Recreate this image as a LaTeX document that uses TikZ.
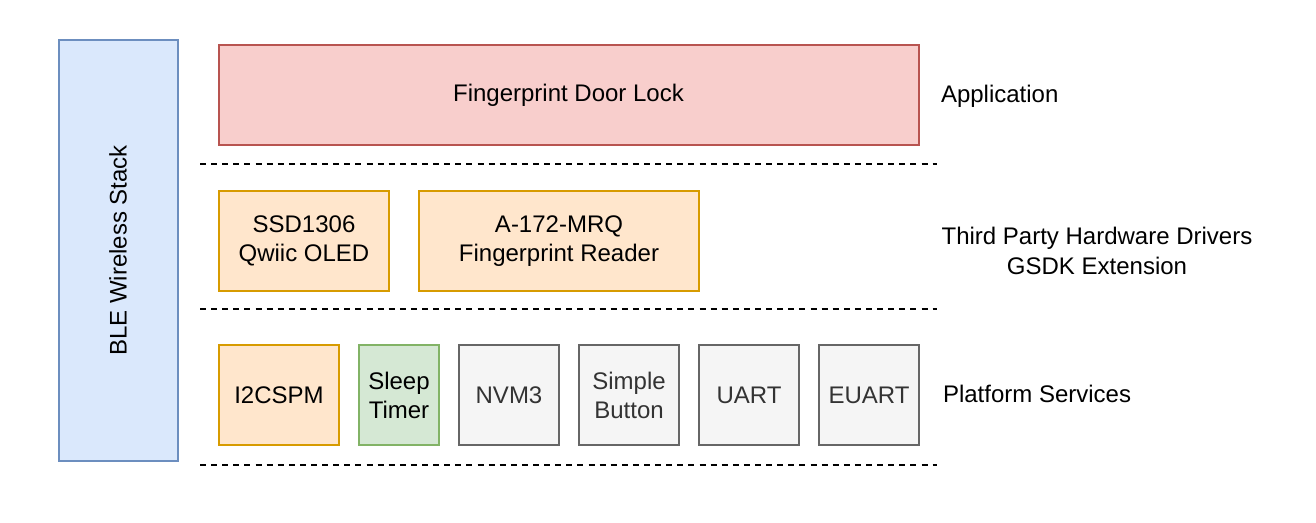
\documentclass[tikz,border=0pt]{standalone}
\usepackage{fontspec}
\setmainfont{Liberation Sans}
\usetikzlibrary{positioning}
\definecolor{bleFill}{HTML}{DAE8FC}
\definecolor{bleLine}{HTML}{6C8EBF}
\definecolor{appFill}{HTML}{F8CECC}
\definecolor{appLine}{HTML}{B85450}
\definecolor{drvFill}{HTML}{FFE6CC}
\definecolor{drvLine}{HTML}{D79B00}
\definecolor{slpFill}{HTML}{D5E8D4}
\definecolor{slpLine}{HTML}{82B366}
\definecolor{svcFill}{HTML}{F5F5F5}
\definecolor{svcLine}{HTML}{666666}
\definecolor{svcText}{HTML}{333333}

\begin{document}
\begin{tikzpicture}[x=1pt,y=-1pt,node distance=20pt,line width=2pt,
  font=\fontsize{24}{29}\selectfont,
  box/.style={draw,rectangle,align=center,inner sep=0pt,outer sep=0pt,minimum height=100pt},
  ble box/.style={box,fill=bleFill,draw=bleLine},
  app box/.style={box,fill=appFill,draw=appLine},
  drv box/.style={box,fill=drvFill,draw=drvLine},
  slp box/.style={box,fill=slpFill,draw=slpLine},
  svc box/.style={box,fill=svcFill,draw=svcLine,text=svcText,minimum width=100pt},
  layer/.style={align=center,inner sep=0pt},
  sep line/.style={line width=2.5pt,dash pattern=on 6pt off 5.1pt}]
  \useasboundingbox (0,0) rectangle (1316,522);

  % stack on the left
  \node[ble box,minimum width=119pt,minimum height=421pt] (ble) at (118,250.5)
    {\rotatebox{90}{BLE Wireless Stack}};

  % application layer
  \node[app box,minimum width=700pt] (app) at (568.5,95) {Fingerprint Door Lock};
  \node[layer,anchor=west] (applbl) at (940,96) {Application};
  \draw[sep line] (200,164) -- (937,164);

  % third party drivers
  \node[drv box,minimum width=170pt] (oled) at (304,241) {SSD1306\\Qwiic OLED};
  \node[drv box,minimum width=280pt,right=30pt of oled] (finger) {A-172-MRQ\\Fingerprint Reader};
  \node[layer,font=\fontsize{24}{30}\selectfont] (drvlbl) at (1097,251)
    {Third Party Hardware Drivers\\GSDK Extension};
  \draw[sep line] (200,309) -- (937,309);

  % platform services
  \node[drv box,minimum width=120pt] (i2c) at (279,395) {I2CSPM};
  \node[slp box,minimum width=80pt,right=of i2c] (sleep) {Sleep\\Timer};
  \node[svc box,right=of sleep] (nvm) {NVM3};
  \node[svc box,right=of nvm] (button) {Simple\\Button};
  \node[svc box,right=of button] (uart) {UART};
  \node[svc box,right=of uart] (euart) {EUART};
  \node[layer,anchor=west] (svclbl) at (942,394) {Platform Services};
  \draw[sep line] (200,465) -- (937,465);
\end{tikzpicture}
\end{document}
